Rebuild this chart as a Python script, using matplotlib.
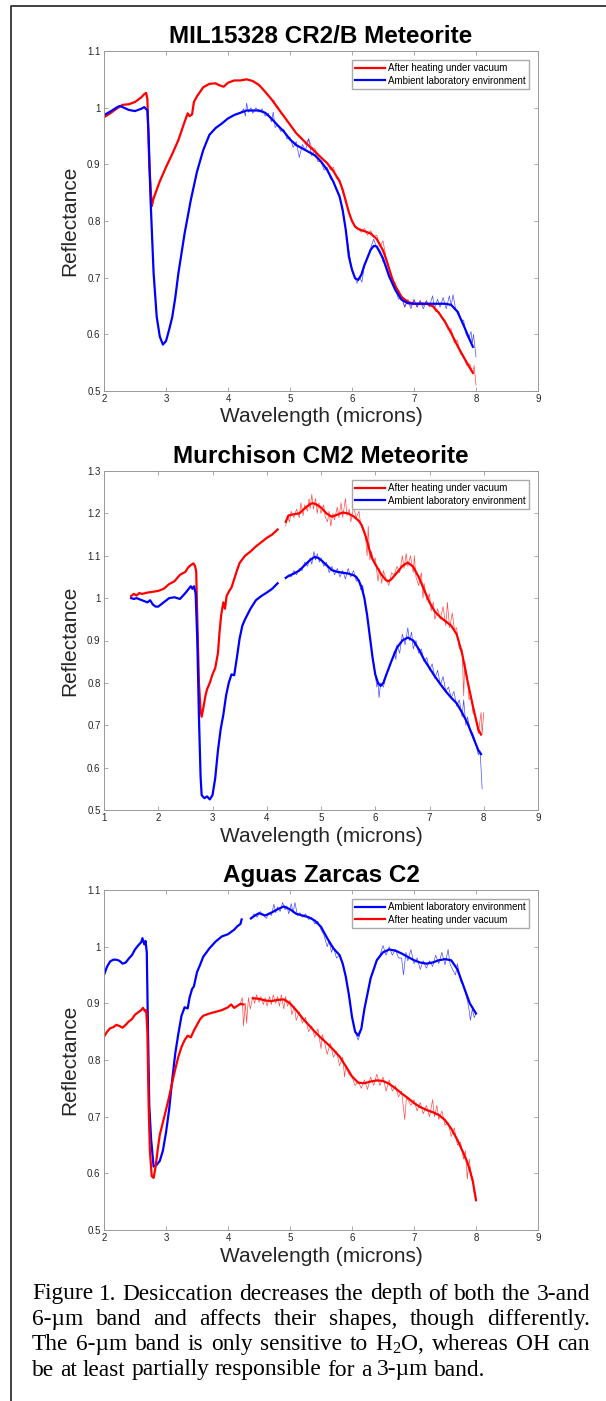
# Desiccation spectra figure: three meteorite panels + caption
import numpy as np
import matplotlib
matplotlib.use('Agg')
import matplotlib.pyplot as plt
from matplotlib.lines import Line2D

plt.rcParams['font.family'] = ['Liberation Sans', 'DejaVu Sans']
plt.rcParams['mathtext.fontset'] = 'custom'
plt.rcParams['mathtext.rm'] = 'Liberation Serif'
plt.rcParams['mathtext.it'] = 'Liberation Serif:italic'

W, H = 606, 1401
heat_label = 'After heating under vacuum'
amb_label = 'Ambient laboratory environment'

# ---------------- Panel 1: MIL15328 ----------------
p1_title = 'MIL15328 CR2/B Meteorite'
p1_xticks = [2, 3, 4, 5, 6, 7, 8, 9]
p1_yticks = [0.5, 0.6, 0.7, 0.8, 0.9, 1.0, 1.1]
p1_ylabels = ['0.5', '0.6', '0.7', '0.8', '0.9', '1', '1.1']

p1_heat_x = [2.0, 2.1, 2.2, 2.3, 2.4, 2.5, 2.6, 2.65, 2.68, 2.7, 2.73, 2.77, 2.8, 2.9, 3.0, 3.1, 3.2, 3.3,
             3.35, 3.38, 3.42, 3.45, 3.5, 3.6, 3.7, 3.8, 3.85, 3.93, 4.0, 4.1, 4.2, 4.3, 4.4, 4.5, 4.6,
             4.7, 4.8, 4.9, 5.0, 5.1, 5.2, 5.3, 5.4, 5.5, 5.6, 5.7, 5.8, 5.85, 5.9, 5.95, 6.0, 6.05, 6.1,
             6.2, 6.3, 6.4, 6.5, 6.55, 6.6, 6.65, 6.7, 6.8, 6.9, 7.0, 7.1, 7.2, 7.3, 7.4, 7.5, 7.6, 7.7,
             7.8, 7.9, 7.95]
p1_heat_y = [0.983, 0.990, 0.998, 1.005, 1.006, 1.010, 1.018, 1.024, 1.026, 1.015, 0.900, 0.826, 0.840,
             0.870, 0.895, 0.918, 0.943, 0.975, 0.990, 0.985, 0.988, 1.010, 1.020, 1.036, 1.042, 1.043,
             1.040, 1.037, 1.044, 1.048, 1.048, 1.050, 1.047, 1.040, 1.028, 1.015, 1.000, 0.985, 0.970,
             0.955, 0.944, 0.933, 0.923, 0.912, 0.902, 0.888, 0.870, 0.855, 0.835, 0.815, 0.800, 0.790,
             0.786, 0.782, 0.778, 0.768, 0.748, 0.733, 0.715, 0.698, 0.685, 0.666, 0.657, 0.654, 0.654,
             0.654, 0.650, 0.638, 0.622, 0.602, 0.580, 0.560, 0.541, 0.532]
p1_amb_x = [2.0, 2.1, 2.2, 2.25, 2.3, 2.4, 2.5, 2.6, 2.65, 2.7, 2.72, 2.75, 2.8, 2.85, 2.9, 2.95, 3.0,
            3.05, 3.1, 3.15, 3.2, 3.3, 3.4, 3.5, 3.6, 3.7, 3.8, 3.9, 4.0, 4.1, 4.2, 4.3, 4.4, 4.5, 4.6,
            4.7, 4.8, 4.9, 5.0, 5.1, 5.2, 5.3, 5.4, 5.5, 5.6, 5.7, 5.8, 5.85, 5.9, 5.95, 6.0, 6.05, 6.1,
            6.15, 6.2, 6.3, 6.35, 6.4, 6.5, 6.6, 6.7, 6.8, 6.9, 7.0, 7.2, 7.4, 7.5, 7.6, 7.7, 7.8, 7.9,
            7.95]
p1_amb_y = [0.987, 0.993, 1.000, 1.003, 1.001, 0.996, 0.994, 0.998, 1.001, 0.995, 0.950, 0.840, 0.708,
            0.631, 0.596, 0.582, 0.588, 0.608, 0.630, 0.665, 0.708, 0.778, 0.837, 0.887, 0.925, 0.952,
            0.964, 0.972, 0.981, 0.987, 0.991, 0.995, 0.995, 0.995, 0.991, 0.981, 0.969, 0.958, 0.944,
            0.934, 0.928, 0.922, 0.916, 0.905, 0.890, 0.869, 0.843, 0.819, 0.784, 0.737, 0.714, 0.699,
            0.696, 0.705, 0.722, 0.749, 0.756, 0.755, 0.734, 0.702, 0.678, 0.661, 0.655, 0.654, 0.654,
            0.654, 0.654, 0.652, 0.640, 0.616, 0.590, 0.578]
p1_heat_raw_x = [4.70, 4.75, 4.78, 4.80, 4.85, 4.9, 5.0, 5.1, 5.2, 5.25, 5.3, 5.35, 5.4, 5.45, 5.5, 5.6,
                 5.65, 5.7, 5.75, 5.8, 5.85, 5.9, 5.95, 6.0, 6.05, 6.1, 6.15, 6.2, 6.25, 6.3, 6.35, 6.4,
                 6.45, 6.5, 6.55, 6.6, 6.65, 6.7, 6.75, 6.8, 6.85, 6.9, 6.95, 7.0, 7.05, 7.1, 7.15, 7.2,
                 7.25, 7.3, 7.35, 7.4, 7.45, 7.5, 7.55, 7.6, 7.65, 7.7, 7.75, 7.8, 7.85, 7.9, 7.95, 7.97,
                 8.0]
p1_heat_raw_y = [1.015, 1.012, 1.000, 1.003, 0.990, 0.985, 0.970, 0.955, 0.946, 0.935, 0.945, 0.930,
                 0.928, 0.915, 0.912, 0.902, 0.890, 0.895, 0.875, 0.874, 0.850, 0.838, 0.815, 0.800,
                 0.792, 0.786, 0.780, 0.787, 0.775, 0.783, 0.772, 0.775, 0.755, 0.765, 0.735, 0.718,
                 0.695, 0.690, 0.670, 0.668, 0.648, 0.662, 0.650, 0.660, 0.648, 0.658, 0.650, 0.660,
                 0.648, 0.652, 0.640, 0.640, 0.628, 0.625, 0.608, 0.610, 0.585, 0.590, 0.565, 0.562,
                 0.545, 0.548, 0.530, 0.545, 0.510]
p1_amb_raw_x = [4.2, 4.25, 4.28, 4.3, 4.33, 4.37, 4.4, 4.45, 4.5, 4.55, 4.6, 4.65, 4.7, 4.73, 4.76, 4.8,
                4.85, 4.9, 4.95, 5.0, 5.05, 5.1, 5.15, 5.2, 5.25, 5.3, 5.35, 5.4, 5.45, 5.5, 5.55, 5.6,
                5.65, 5.7, 5.75, 5.8, 5.9, 6.0, 6.05, 6.08, 6.12, 6.16, 6.2, 6.25, 6.3, 6.35, 6.4, 6.45,
                6.5, 6.55, 6.6, 6.65, 6.7, 6.75, 6.8, 6.85, 6.9, 6.95, 7.0, 7.05, 7.1, 7.15, 7.2, 7.25,
                7.3, 7.33, 7.38, 7.42, 7.47, 7.52, 7.57, 7.6, 7.63, 7.67, 7.72, 7.76, 7.8, 7.84, 7.88,
                7.92, 7.94, 7.96, 8.0]
p1_amb_raw_y = [0.990, 0.998, 0.985, 1.008, 0.992, 1.000, 0.990, 1.000, 0.992, 0.998, 0.985, 0.990,
                0.975, 0.992, 0.965, 0.970, 0.958, 0.962, 0.945, 0.948, 0.930, 0.940, 0.912, 0.935,
                0.925, 0.945, 0.915, 0.925, 0.905, 0.905, 0.890, 0.895, 0.875, 0.870, 0.855, 0.845,
                0.785, 0.712, 0.700, 0.690, 0.702, 0.692, 0.722, 0.735, 0.752, 0.768, 0.752, 0.748,
                0.728, 0.722, 0.705, 0.690, 0.680, 0.662, 0.665, 0.648, 0.660, 0.645, 0.662, 0.648,
                0.660, 0.645, 0.658, 0.650, 0.668, 0.645, 0.662, 0.648, 0.665, 0.645, 0.668, 0.650,
                0.670, 0.645, 0.640, 0.625, 0.625, 0.600, 0.592, 0.605, 0.585, 0.600, 0.560]

# ---------------- Panel 2: Murchison ----------------
p2_title = 'Murchison CM2 Meteorite'
p2_xticks = [1, 2, 3, 4, 5, 6, 7, 8, 9]
p2_yticks = [0.5, 0.6, 0.7, 0.8, 0.9, 1.0, 1.1, 1.2, 1.3]
p2_ylabels = ['0.5', '0.6', '0.7', '0.8', '0.9', '1', '1.1', '1.2', '1.3']

p2_heat_x1 = [1.5, 1.55, 1.6, 1.65, 1.7, 1.8, 1.9, 2.0, 2.1, 2.2, 2.3, 2.4, 2.5, 2.55, 2.6, 2.65, 2.68,
              2.7, 2.72, 2.75, 2.78, 2.8, 2.83, 2.87, 2.9, 2.95, 3.0, 3.05, 3.1, 3.13, 3.16, 3.2, 3.23,
              3.26, 3.3, 3.35, 3.4, 3.45, 3.5, 3.6, 3.7, 3.8, 3.9, 4.0, 4.1, 4.2]
p2_heat_y1 = [1.005, 1.010, 1.006, 1.012, 1.010, 1.013, 1.015, 1.017, 1.022, 1.033, 1.040, 1.055, 1.062,
              1.072, 1.078, 1.082, 1.075, 1.062, 0.950, 0.800, 0.735, 0.720, 0.740, 0.770, 0.785, 0.800,
              0.820, 0.835, 0.870, 0.920, 0.960, 0.990, 0.975, 1.005, 1.015, 1.025, 1.045, 1.065, 1.083,
              1.100, 1.110, 1.122, 1.132, 1.142, 1.150, 1.162]
p2_heat_x2 = [4.35, 4.4, 4.5, 4.6, 4.7, 4.8, 4.85, 4.9, 5.0, 5.1, 5.2, 5.3, 5.4, 5.5, 5.6, 5.7, 5.75, 5.8,
              5.85, 5.9, 5.95, 6.0, 6.1, 6.2, 6.25, 6.3, 6.4, 6.5, 6.6, 6.7, 6.8, 6.9, 7.0, 7.1, 7.2, 7.3,
              7.4, 7.5, 7.6, 7.7, 7.8, 7.9, 7.95]
p2_heat_y2 = [1.180, 1.195, 1.198, 1.200, 1.212, 1.222, 1.224, 1.222, 1.214, 1.200, 1.192, 1.197, 1.202,
              1.200, 1.193, 1.182, 1.172, 1.155, 1.135, 1.110, 1.092, 1.080, 1.058, 1.042, 1.040, 1.045,
              1.060, 1.076, 1.084, 1.074, 1.050, 1.020, 0.990, 0.968, 0.955, 0.945, 0.935, 0.915, 0.870,
              0.805, 0.745, 0.690, 0.678]
p2_amb_x1 = [1.5, 1.55, 1.6, 1.7, 1.8, 1.85, 1.9, 1.95, 2.0, 2.05, 2.1, 2.2, 2.3, 2.4, 2.45, 2.5, 2.55,
             2.6, 2.63, 2.66, 2.69, 2.72, 2.75, 2.78, 2.8, 2.85, 2.9, 2.95, 3.0, 3.05, 3.1, 3.15, 3.2, 3.25,
             3.3, 3.35, 3.4, 3.45, 3.5, 3.55, 3.6, 3.7, 3.8, 3.9, 4.0, 4.1, 4.2]
p2_amb_y1 = [1.000, 0.998, 1.000, 0.995, 0.990, 0.995, 0.985, 0.980, 0.980, 0.985, 0.990, 1.000, 1.002,
             0.998, 1.005, 1.012, 1.020, 1.028, 1.022, 1.028, 1.010, 0.900, 0.720, 0.580, 0.535, 0.528,
             0.532, 0.525, 0.535, 0.575, 0.640, 0.690, 0.725, 0.770, 0.800, 0.820, 0.818, 0.860, 0.905,
             0.935, 0.950, 0.975, 0.995, 1.005, 1.013, 1.022, 1.035]
p2_amb_x2 = [4.35, 4.4, 4.5, 4.6, 4.7, 4.8, 4.88, 4.95, 5.0, 5.1, 5.2, 5.3, 5.4, 5.5, 5.6, 5.65, 5.7, 5.75,
             5.8, 5.85, 5.9, 5.95, 6.0, 6.05, 6.1, 6.15, 6.2, 6.3, 6.4, 6.5, 6.6, 6.7, 6.8, 6.9, 7.0, 7.1,
             7.2, 7.3, 7.4, 7.5, 7.6, 7.7, 7.8, 7.9, 7.95]
p2_amb_y2 = [1.048, 1.052, 1.058, 1.065, 1.078, 1.090, 1.097, 1.095, 1.090, 1.078, 1.066, 1.062, 1.060,
             1.058, 1.054, 1.050, 1.040, 1.025, 1.000, 0.960, 0.910, 0.860, 0.820, 0.800, 0.793, 0.800,
             0.818, 0.852, 0.883, 0.900, 0.907, 0.900, 0.880, 0.855, 0.835, 0.815, 0.797, 0.780, 0.765,
             0.752, 0.730, 0.705, 0.673, 0.641, 0.632]
p2_heat_raw_x = [4.35, 4.38, 4.42, 4.45, 4.5, 4.55, 4.6, 4.63, 4.67, 4.7, 4.75, 4.78, 4.8, 4.83, 4.86, 4.9,
                 4.93, 4.96, 5.0, 5.05, 5.08, 5.12, 5.15, 5.18, 5.22, 5.25, 5.3, 5.33, 5.37, 5.4, 5.45,
                 5.48, 5.52, 5.55, 5.6, 5.65, 5.7, 5.73, 5.78, 5.82, 5.85, 5.87, 5.9, 5.93, 5.97, 6.0,
                 6.05, 6.08, 6.12, 6.15, 6.2, 6.25, 6.3, 6.35, 6.4, 6.45, 6.5, 6.53, 6.57, 6.6, 6.65,
                 6.7, 6.72, 6.75, 6.8, 6.85, 6.88, 6.9, 6.95, 7.0, 7.03, 7.07, 7.1, 7.15, 7.2, 7.25, 7.3,
                 7.33, 7.37, 7.42, 7.46, 7.5, 7.55, 7.6, 7.63, 7.65, 7.7, 7.73, 7.77, 7.8, 7.85, 7.9,
                 7.95, 7.97, 8.0]
p2_heat_raw_y = [1.170, 1.195, 1.180, 1.205, 1.190, 1.210, 1.190, 1.225, 1.195, 1.220, 1.205, 1.235,
                 1.210, 1.245, 1.210, 1.235, 1.200, 1.225, 1.200, 1.220, 1.190, 1.180, 1.205, 1.170,
                 1.200, 1.185, 1.215, 1.190, 1.225, 1.190, 1.235, 1.195, 1.210, 1.180, 1.215, 1.190,
                 1.205, 1.175, 1.160, 1.145, 1.100, 1.170, 1.090, 1.110, 1.085, 1.095, 1.040, 1.070,
                 1.035, 1.065, 1.045, 1.030, 1.060, 1.055, 1.075, 1.060, 1.100, 1.070, 1.105, 1.075,
                 1.100, 1.060, 1.100, 1.050, 1.030, 1.060, 1.000, 1.035, 0.995, 1.010, 0.970, 0.990,
                 0.950, 0.975, 0.950, 0.980, 0.935, 0.990, 0.930, 0.965, 0.925, 0.930, 0.880, 0.880,
                 0.770, 0.850, 0.810, 0.760, 0.770, 0.730, 0.720, 0.680, 0.730, 0.680, 0.730]
p2_amb_raw_x = [4.35, 4.4, 4.45, 4.5, 4.55, 4.6, 4.65, 4.7, 4.75, 4.8, 4.83, 4.87, 4.9, 4.93, 4.97, 5.0,
                5.05, 5.1, 5.15, 5.2, 5.25, 5.3, 5.35, 5.4, 5.45, 5.5, 5.55, 5.6, 5.65, 5.7, 5.73, 5.77,
                5.8, 5.85, 5.9, 5.95, 6.0, 6.03, 6.05, 6.07, 6.1, 6.15, 6.2, 6.25, 6.3, 6.35, 6.38, 6.4,
                6.45, 6.5, 6.55, 6.6, 6.63, 6.67, 6.7, 6.75, 6.8, 6.85, 6.9, 6.95, 7.0, 7.05, 7.1, 7.15,
                7.2, 7.25, 7.3, 7.35, 7.4, 7.45, 7.5, 7.55, 7.6, 7.63, 7.67, 7.7, 7.75, 7.8, 7.85, 7.9,
                7.93, 7.95, 7.97]
p2_amb_raw_y = [1.045, 1.055, 1.050, 1.065, 1.055, 1.070, 1.065, 1.085, 1.075, 1.095, 1.080, 1.110,
                1.090, 1.105, 1.085, 1.095, 1.075, 1.085, 1.060, 1.075, 1.055, 1.070, 1.050, 1.065,
                1.045, 1.070, 1.050, 1.065, 1.040, 1.045, 1.020, 1.030, 0.995, 0.960, 0.910, 0.860,
                0.820, 0.790, 0.805, 0.765, 0.800, 0.790, 0.820, 0.835, 0.850, 0.875, 0.855, 0.890,
                0.870, 0.915, 0.890, 0.930, 0.900, 0.920, 0.880, 0.900, 0.870, 0.880, 0.850, 0.860,
                0.830, 0.845, 0.810, 0.830, 0.795, 0.815, 0.780, 0.790, 0.765, 0.780, 0.745, 0.760,
                0.720, 0.760, 0.700, 0.720, 0.690, 0.680, 0.660, 0.630, 0.640, 0.600, 0.550]

# ---------------- Panel 3: Aguas Zarcas ----------------
p3_title = 'Aguas Zarcas C2'
p3_xticks = [2, 3, 4, 5, 6, 7, 8, 9]
p3_yticks = [0.5, 0.6, 0.7, 0.8, 0.9, 1.0, 1.1]
p3_ylabels = ['0.5', '0.6', '0.7', '0.8', '0.9', '1', '1.1']

p3_amb_x1 = [2.0, 2.05, 2.1, 2.15, 2.2, 2.25, 2.3, 2.35, 2.4, 2.45, 2.5, 2.55, 2.6, 2.62, 2.65, 2.67, 2.69,
             2.71, 2.73, 2.76, 2.8, 2.85, 2.9, 2.95, 3.0, 3.05, 3.1, 3.15, 3.2, 3.25, 3.3, 3.35, 3.38,
             3.42, 3.45, 3.5, 3.55, 3.6, 3.7, 3.8, 3.9, 4.0, 4.1, 4.15, 4.2, 4.22]
p3_amb_y1 = [0.950, 0.965, 0.974, 0.977, 0.977, 0.975, 0.970, 0.972, 0.979, 0.985, 0.995, 1.002, 1.008,
             1.015, 1.004, 1.010, 0.990, 0.850, 0.720, 0.660, 0.612, 0.615, 0.622, 0.640, 0.672, 0.712,
             0.765, 0.812, 0.847, 0.878, 0.893, 0.891, 0.910, 0.925, 0.930, 0.955, 0.968, 0.982, 0.997,
             1.009, 1.018, 1.022, 1.030, 1.036, 1.040, 1.048]
p3_amb_x2 = [4.37, 4.45, 4.5, 4.6, 4.7, 4.8, 4.9, 5.0, 5.1, 5.2, 5.3, 5.4, 5.5, 5.6, 5.7, 5.8, 5.85, 5.9,
             5.95, 6.0, 6.05, 6.1, 6.15, 6.2, 6.3, 6.4, 6.5, 6.6, 6.7, 6.8, 6.9, 7.0, 7.1, 7.2, 7.3, 7.4,
             7.5, 7.6, 7.7, 7.8, 7.9, 8.0]
p3_amb_y2 = [1.050, 1.056, 1.059, 1.055, 1.060, 1.066, 1.071, 1.066, 1.058, 1.055, 1.052, 1.046, 1.035,
             1.015, 0.997, 0.985, 0.970, 0.947, 0.915, 0.876, 0.850, 0.843, 0.855, 0.890, 0.944, 0.976,
             0.990, 0.995, 0.993, 0.988, 0.982, 0.976, 0.972, 0.970, 0.972, 0.976, 0.978, 0.976, 0.960,
             0.930, 0.900, 0.882]
p3_heat_x1 = [2.0, 2.05, 2.1, 2.15, 2.2, 2.25, 2.3, 2.35, 2.4, 2.45, 2.5, 2.55, 2.6, 2.63, 2.66, 2.68, 2.7,
              2.72, 2.74, 2.77, 2.8, 2.83, 2.87, 2.9, 2.95, 3.0, 3.05, 3.1, 3.15, 3.2, 3.25, 3.3, 3.35,
              3.4, 3.45, 3.5, 3.55, 3.6, 3.7, 3.8, 3.9, 4.0, 4.05, 4.1, 4.2, 4.25]
p3_heat_y1 = [0.841, 0.850, 0.856, 0.858, 0.862, 0.860, 0.857, 0.862, 0.868, 0.872, 0.880, 0.884, 0.888,
              0.892, 0.886, 0.888, 0.850, 0.720, 0.640, 0.595, 0.592, 0.610, 0.645, 0.668, 0.690, 0.712,
              0.735, 0.760, 0.784, 0.806, 0.823, 0.835, 0.843, 0.840, 0.852, 0.862, 0.872, 0.878, 0.882,
              0.885, 0.888, 0.893, 0.898, 0.892, 0.899, 0.898]
p3_heat_x2 = [4.4, 4.5, 4.6, 4.7, 4.8, 4.9, 5.0, 5.1, 5.2, 5.3, 5.4, 5.5, 5.6, 5.7, 5.8, 5.9, 6.0, 6.1, 6.2,
              6.3, 6.4, 6.5, 6.6, 6.7, 6.8, 6.9, 7.0, 7.1, 7.2, 7.3, 7.4, 7.5, 7.6, 7.7, 7.8, 7.85, 7.9,
              7.95, 8.0]
p3_heat_y2 = [0.909, 0.908, 0.905, 0.904, 0.906, 0.907, 0.900, 0.888, 0.874, 0.862, 0.850, 0.839, 0.829,
              0.818, 0.806, 0.789, 0.771, 0.760, 0.759, 0.762, 0.764, 0.763, 0.758, 0.750, 0.741, 0.733,
              0.724, 0.717, 0.712, 0.708, 0.703, 0.694, 0.679, 0.659, 0.635, 0.622, 0.606, 0.585, 0.553]
p3_amb_raw_x = [4.37, 4.42, 4.47, 4.52, 4.57, 4.62, 4.66, 4.7, 4.74, 4.77, 4.8, 4.84, 4.88, 4.92, 4.95,
                4.98, 5.02, 5.05, 5.08, 5.12, 5.16, 5.2, 5.25, 5.3, 5.35, 5.4, 5.45, 5.5, 5.55, 5.6, 5.63,
                5.67, 5.7, 5.75, 5.8, 5.85, 5.9, 5.95, 6.0, 6.05, 6.1, 6.15, 6.2, 6.3, 6.4, 6.45, 6.5,
                6.55, 6.6, 6.65, 6.7, 6.75, 6.8, 6.83, 6.87, 6.9, 6.95, 7.0, 7.05, 7.1, 7.15, 7.2, 7.25,
                7.3, 7.35, 7.4, 7.45, 7.5, 7.55, 7.58, 7.62, 7.67, 7.7, 7.75, 7.8, 7.85, 7.88, 7.91,
                7.94, 7.97, 8.0]
p3_amb_raw_y = [1.048, 1.058, 1.052, 1.062, 1.055, 1.050, 1.060, 1.055, 1.075, 1.060, 1.070, 1.062,
                1.078, 1.065, 1.072, 1.058, 1.076, 1.060, 1.078, 1.055, 1.060, 1.052, 1.058, 1.048,
                1.052, 1.040, 1.045, 1.030, 1.020, 1.000, 1.010, 0.990, 1.000, 0.980, 0.985, 0.970,
                0.945, 0.915, 0.876, 0.850, 0.835, 0.855, 0.890, 0.944, 0.978, 0.985, 1.002, 0.985,
                1.000, 0.985, 0.995, 0.980, 0.980, 0.950, 0.990, 0.975, 0.995, 0.970, 0.980, 0.960,
                0.975, 0.962, 0.975, 0.965, 0.985, 0.970, 0.990, 0.968, 0.995, 0.970, 0.960, 0.950,
                0.970, 0.940, 0.930, 0.910, 0.895, 0.870, 0.890, 0.875, 0.882]
p3_heat_raw_x = [4.2, 4.23, 4.25, 4.28, 4.3, 4.33, 4.36, 4.4, 4.43, 4.46, 4.5, 4.53, 4.57, 4.6, 4.63, 4.67,
                 4.7, 4.73, 4.77, 4.8, 4.83, 4.86, 4.9, 4.93, 4.96, 5.0, 5.03, 5.07, 5.1, 5.15, 5.2, 5.25,
                 5.3, 5.35, 5.4, 5.45, 5.5, 5.52, 5.55, 5.6, 5.65, 5.7, 5.75, 5.8, 5.85, 5.88, 5.9, 5.95,
                 6.0, 6.05, 6.1, 6.15, 6.2, 6.25, 6.3, 6.35, 6.4, 6.45, 6.5, 6.55, 6.6, 6.65, 6.7, 6.75,
                 6.8, 6.85, 6.88, 6.9, 6.95, 7.0, 7.05, 7.1, 7.15, 7.2, 7.25, 7.3, 7.33, 7.37, 7.4, 7.45,
                 7.5, 7.55, 7.6, 7.65, 7.7, 7.75, 7.8, 7.83, 7.86, 7.89, 7.92, 7.95, 7.97, 8.0]
p3_heat_raw_y = [0.900, 0.910, 0.860, 0.900, 0.865, 0.910, 0.890, 0.912, 0.900, 0.915, 0.902, 0.912,
                 0.898, 0.910, 0.895, 0.912, 0.898, 0.915, 0.900, 0.912, 0.895, 0.915, 0.890, 0.912,
                 0.895, 0.905, 0.880, 0.895, 0.870, 0.885, 0.865, 0.875, 0.850, 0.860, 0.840, 0.855,
                 0.820, 0.845, 0.835, 0.810, 0.830, 0.805, 0.815, 0.790, 0.805, 0.770, 0.790, 0.775,
                 0.770, 0.755, 0.762, 0.750, 0.765, 0.748, 0.770, 0.755, 0.775, 0.755, 0.770, 0.745,
                 0.765, 0.745, 0.755, 0.735, 0.745, 0.695, 0.735, 0.730, 0.720, 0.730, 0.710, 0.725,
                 0.705, 0.720, 0.700, 0.730, 0.700, 0.720, 0.695, 0.710, 0.685, 0.690, 0.665, 0.680,
                 0.650, 0.655, 0.625, 0.640, 0.590, 0.625, 0.600, 0.590, 0.565, 0.550]

caption_lines = ['Figure 1. Desiccation decreases the depth of both the 3-and',
                 '6-\u00b5m band and affects their shapes, though differently.',
                 'The 6-\u00b5m band is only sensitive to H$_2$O, whereas OH can',
                 'be at least partially responsible for a 3-\u00b5m band.']

RED = (1, 0, 0)
BLUE = (0, 0, 1)


def px_rect(left, top, right, bottom):
    return [left / W, 1 - bottom / H, (right - left) / W, (bottom - top) / H]


def style_axes(ax, title, xlim, xticks, ylim, yticks, ylabels, top_px, bottom_px):
    ax.set_xlim(xlim)
    ax.set_ylim(ylim)
    ax.set_xticks(xticks)
    ax.set_xticklabels([str(t) for t in xticks])
    ax.set_yticks(yticks)
    ax.set_yticklabels(ylabels)
    ax.tick_params(direction='in', length=3, width=0.5, color='#888888', labelcolor='#262626',
                   labelsize=7, top=True, right=True, pad=2.5)
    for s in ax.spines.values():
        s.set_color('#999999')
        s.set_linewidth(0.7)
    hpx = bottom_px - top_px
    ax.set_title(title, fontsize=17.5, fontweight='bold', pad=6)
    ax.set_xlabel('Wavelength (microns)', fontsize=15, color='#262626', va='center')
    ax.xaxis.set_label_coords(0.5, -26 / hpx)
    ax.set_ylabel('Reflectance', fontsize=15, color='#262626', va='center')
    ax.yaxis.set_label_coords(-34 / 434, 0.5)


def add_legend(ax, order):
    handles = []
    for lab in order:
        c = RED if lab == heat_label else BLUE
        handles.append(Line2D([], [], color=c, lw=1.6, label=lab))
    ax.legend(handles=handles, loc='upper right', bbox_to_anchor=(1 - 9 / 434, 1 - 9 / 340),
              borderaxespad=0, fontsize=7, frameon=True, fancybox=False, edgecolor='#aaaaaa',
              framealpha=1, handlelength=3.0, handletextpad=0.35, labelspacing=0.25, borderpad=0.35)


fig = plt.figure(figsize=(W / 100, H / 100), dpi=100)

# panel 1
ax1 = fig.add_axes(px_rect(104, 51, 538, 391))
ax1.plot(p1_heat_raw_x, p1_heat_raw_y, color=RED, lw=0.5, alpha=0.7)
ax1.plot(p1_amb_raw_x, p1_amb_raw_y, color=BLUE, lw=0.5, alpha=0.7)
ax1.plot(p1_heat_x, p1_heat_y, color=RED, lw=1.6)
ax1.plot(p1_amb_x, p1_amb_y, color=BLUE, lw=1.6)
style_axes(ax1, p1_title, (2, 9), p1_xticks, (0.5, 1.1), p1_yticks, p1_ylabels, 51, 391)
add_legend(ax1, [heat_label, amb_label])

# panel 2
ax2 = fig.add_axes(px_rect(104, 471, 538, 810))
ax2.plot(p2_heat_raw_x, p2_heat_raw_y, color=RED, lw=0.5, alpha=0.7)
ax2.plot(p2_amb_raw_x, p2_amb_raw_y, color=BLUE, lw=0.5, alpha=0.7)
ax2.plot(p2_heat_x1, p2_heat_y1, color=RED, lw=1.6)
ax2.plot(p2_heat_x2, p2_heat_y2, color=RED, lw=1.6)
ax2.plot(p2_amb_x1, p2_amb_y1, color=BLUE, lw=1.6)
ax2.plot(p2_amb_x2, p2_amb_y2, color=BLUE, lw=1.6)
style_axes(ax2, p2_title, (1, 9), p2_xticks, (0.5, 1.3), p2_yticks, p2_ylabels, 471, 810)
add_legend(ax2, [heat_label, amb_label])

# panel 3
ax3 = fig.add_axes(px_rect(104, 890, 538, 1230))
ax3.plot(p3_heat_raw_x, p3_heat_raw_y, color=RED, lw=0.5, alpha=0.7)
ax3.plot(p3_amb_raw_x, p3_amb_raw_y, color=BLUE, lw=0.5, alpha=0.7)
ax3.plot(p3_amb_x1, p3_amb_y1, color=BLUE, lw=1.6)
ax3.plot(p3_amb_x2, p3_amb_y2, color=BLUE, lw=1.6)
ax3.plot(p3_heat_x1, p3_heat_y1, color=RED, lw=1.6)
ax3.plot(p3_heat_x2, p3_heat_y2, color=RED, lw=1.6)
style_axes(ax3, p3_title, (2, 9), p3_xticks, (0.5, 1.1), p3_yticks, p3_ylabels, 890, 1230)
add_legend(ax3, [amb_label, heat_label])

# outer frame (left and top edges)
fig.add_artist(Line2D([11 / W, 11 / W, 1.0], [0.0, 1 - 5.7 / H, 1 - 5.7 / H],
                      transform=fig.transFigure, color='#333333', lw=1.3))

# caption, justified like the source document
cap_left, cap_right = 32, 590
cap_size = 16.8
baselines = [1299.5, 1325, 1350.3, 1375.5]
renderer = fig.canvas.get_renderer()
space_px = 0.25 * cap_size * 100 / 72
for i, line in enumerate(caption_lines):
    words = line.split(' ')
    texts = [fig.text(0, 1 - baselines[i] / H, w, fontsize=cap_size, family='Liberation Serif',
                      va='baseline', ha='left', color='black') for w in words]
    widths = [t.get_window_extent(renderer).width for t in texts]
    if i < len(caption_lines) - 1:
        gap = (cap_right - cap_left - sum(widths)) / (len(words) - 1)
    else:
        gap = space_px
    x = cap_left
    for t, w in zip(texts, widths):
        t.set_x(x / W)
        x += w + gap

fig.savefig('out.png', dpi=100)
